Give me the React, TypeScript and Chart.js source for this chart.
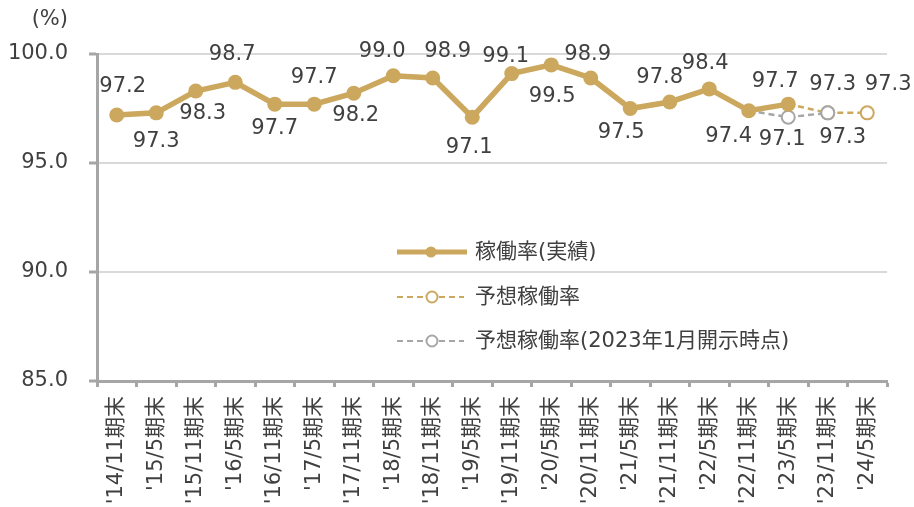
import React, { useEffect, useRef } from "react";
import { Chart, registerables } from "chart.js";

Chart.register(...registerables);

const categories = [
  "'14/11期末", "'15/5期末", "'15/11期末", "'16/5期末", "'16/11期末",
  "'17/5期末", "'17/11期末", "'18/5期末", "'18/11期末", "'19/5期末",
  "'19/11期末", "'20/5期末", "'20/11期末", "'21/5期末", "'21/11期末",
  "'22/5期末", "'22/11期末", "'23/5期末", "'23/11期末", "'24/5期末",
];

const actualRate = [
  97.2, 97.3, 98.3, 98.7, 97.7, 97.7, 98.2, 99.0, 98.9, 97.1,
  99.1, 99.5, 98.9, 97.5, 97.8, 98.4, 97.4, 97.7, null, null,
];

const forecastRate = [
  null, null, null, null, null, null, null, null, null, null,
  null, null, null, null, null, null, null, 97.7, 97.3, 97.3,
];

const forecastJan2023 = [
  null, null, null, null, null, null, null, null, null, null,
  null, null, null, null, null, null, 97.4, 97.1, 97.3, null,
];

const yTicks = [85, 90, 95, 100];

const seriesNames = ["稼働率(実績)", "予想稼働率", "予想稼働率(2023年1月開示時点)"];

// label offsets (dx, dy) relative to each point — style only
const actualLabelOffsets: [number, number][] = [
  [6, -28], [0, 29], [7, 22], [-3, -28], [0, 24], [0, -27], [2, 22], [-11, -24],
  [15, -26], [-3, 30], [-6, -17], [1, 32], [-3, -23], [-9, 24], [-10, -24],
  [-4, -25], [-20, 26], [-13, -23],
];
const forecastLabelOffsets: Record<number, [number, number]> = { 18: [5, -28], 19: [21, -28] };
const janLabelOffsets: Record<number, [number, number]> = { 17: [-6, 22], 18: [15, 25] };

const GOLD = "#CCA85E";
const GRAY = "#A6A6A6";
const TEXT = "#404040";
const FONT = '"DejaVu Sans", "Noto Sans CJK JP", sans-serif';

export default function App() {
  const ref = useRef<HTMLCanvasElement | null>(null);

  useEffect(() => {
    if (!ref.current) return;

    const labelPlugin = {
      id: "labelsAndLegend",
      afterDraw(chart: any) {
        const ctx = chart.ctx;
        ctx.save();
        ctx.font = `21px ${FONT}`;
        ctx.fillStyle = TEXT;
        ctx.textAlign = "center";
        ctx.textBaseline = "middle";
        const drawSet = (dsIndex: number, values: (number | null)[], offs: (i: number) => [number, number] | undefined) => {
          const meta = chart.getDatasetMeta(dsIndex);
          values.forEach((v, i) => {
            if (v == null) return;
            const o = offs(i);
            if (!o) return;
            const el = meta.data[i];
            ctx.fillText(v.toFixed(1), el.x + o[0], el.y + o[1]);
          });
        };
        drawSet(0, actualRate, (i) => actualLabelOffsets[i]);
        drawSet(1, forecastRate, (i) => forecastLabelOffsets[i]);
        drawSet(2, forecastJan2023, (i) => janLabelOffsets[i]);

        // unit label
        ctx.textAlign = "right";
        ctx.fillText("(%)", 68, 20);

        // legend
        const lx0 = 397, lx1 = 467, cx = 431, tx = 475;
        const rows = [252, 297, 341];
        // row 1
        ctx.setLineDash([]);
        ctx.strokeStyle = GOLD;
        ctx.lineWidth = 5;
        ctx.beginPath();
        ctx.moveTo(lx0, rows[0]);
        ctx.lineTo(lx1, rows[0]);
        ctx.stroke();
        ctx.fillStyle = GOLD;
        ctx.beginPath();
        ctx.arc(cx, rows[0], 5.5, 0, Math.PI * 2);
        ctx.fill();
        // row 2,3
        const dashed = (y: number, color: string) => {
          ctx.strokeStyle = color;
          ctx.lineWidth = 2;
          ctx.setLineDash([6, 4]);
          ctx.beginPath();
          ctx.moveTo(lx0, y);
          ctx.lineTo(cx - 6, y);
          ctx.moveTo(cx + 8, y);
          ctx.lineTo(lx1 - 3, y);
          ctx.stroke();
          ctx.setLineDash([]);
          ctx.fillStyle = "#ffffff";
          ctx.beginPath();
          ctx.arc(cx + 1, y, 5.5, 0, Math.PI * 2);
          ctx.fill();
          ctx.stroke();
        };
        dashed(rows[1], GOLD);
        dashed(rows[2], GRAY);
        ctx.fillStyle = TEXT;
        ctx.textAlign = "left";
        seriesNames.forEach((n, i) => ctx.fillText(n, tx, rows[i] + 1));
        ctx.restore();
      },
    };

    const chart = new Chart(ref.current, {
      type: "line",
      data: {
        labels: categories,
        datasets: [
          {
            label: seriesNames[0],
            data: actualRate,
            borderColor: GOLD,
            backgroundColor: GOLD,
            borderWidth: 5.5,
            pointRadius: 7.5,
            pointBackgroundColor: GOLD,
            pointBorderWidth: 0,
            spanGaps: false,
            order: 0,
          },
          {
            label: seriesNames[1],
            data: forecastRate,
            borderColor: GOLD,
            borderWidth: 2.5,
            borderDash: [6, 4],
            pointRadius: forecastRate.map((v, i) => (i === 17 ? 0 : 6.5)),
            pointBackgroundColor: "#ffffff",
            pointBorderColor: GOLD,
            pointBorderWidth: 2,
            order: 2,
          },
          {
            label: seriesNames[2],
            data: forecastJan2023,
            borderColor: GRAY,
            borderWidth: 2.5,
            borderDash: [6, 4],
            pointRadius: forecastJan2023.map((v, i) => (i === 16 ? 0 : 6.5)),
            pointBackgroundColor: "#ffffff",
            pointBorderColor: GRAY,
            pointBorderWidth: 2,
            order: 1,
          },
        ],
      },
      options: {
        animation: false,
        responsive: false,
        maintainAspectRatio: false,
        layout: { padding: { top: 54, right: 27, bottom: 0, left: 0 } },
        plugins: { legend: { display: false }, tooltip: { enabled: false } },
        scales: {
          x: {
            type: "category",
            offset: true,
            grid: {
              display: true,
              drawOnChartArea: false,
              drawTicks: true,
              tickLength: 6,
              tickWidth: 3,
              tickColor: GRAY,
              offset: true,
            },
            border: { color: GRAY, width: 3 },
            ticks: {
              autoSkip: false,
              minRotation: 90,
              maxRotation: 90,
              padding: 9,
              color: TEXT,
              font: { size: 21, family: FONT },
            },
            afterFit(scale: any) {
              scale.height = 126;
            },
          },
          y: {
            min: 85,
            max: 100,
            afterBuildTicks(scale: any) {
              scale.ticks = yTicks.map((v) => ({ value: v }));
            },
            grid: {
              color: "#D9D9D9",
              lineWidth: 2,
              tickLength: 8,
              tickWidth: 3,
              tickColor: GRAY,
            },
            border: { color: GRAY, width: 3 },
            ticks: {
              padding: 21,
              color: TEXT,
              font: { size: 21, family: FONT },
              callback: (v: any) => Number(v).toFixed(1),
            },
            afterFit(scale: any) {
              scale.width = 97;
            },
          },
        },
      },
      plugins: [labelPlugin],
    });
    return () => chart.destroy();
  }, []);

  return (
    <canvas
      ref={ref}
      width={914}
      height={507}
      style={{ position: "fixed", left: 0, top: 0, width: 914, height: 507 }}
    />
  );
}
